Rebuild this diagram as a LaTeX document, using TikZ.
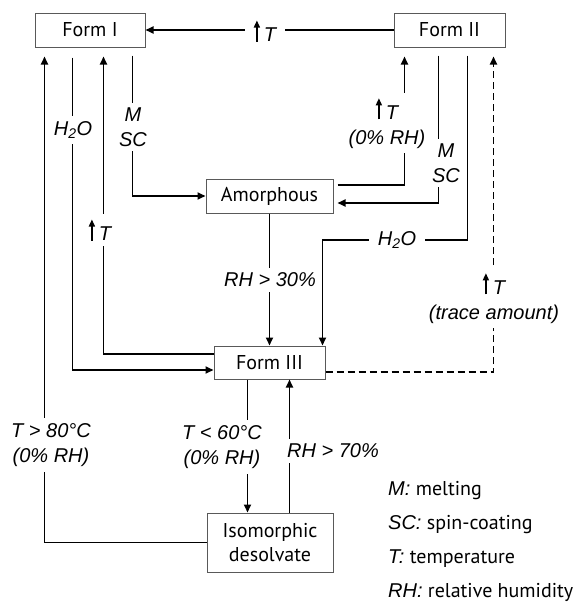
\documentclass[tikz,border=0pt]{standalone}
\usepackage{fontspec}
\setmainfont{PT Sans}
\newfontfamily\labfont{Liberation Sans}
\usetikzlibrary{arrows.meta}
\newcommand{\upT}{\tikz[baseline=0pt]\draw[line width=1.4pt,-{Triangle[length=7pt,width=6pt]}] (0pt,0pt)--(0pt,21pt);\hspace{4pt}T}
\begin{document}
\begin{tikzpicture}[x=1pt,y=-1pt,
  box/.style={draw=black!65, line width=1pt, inner sep=0pt, align=center,
    font=\fontsize{20}{24}\selectfont},
  conn/.style={line width=1.7pt, -{Triangle[length=8pt,width=7pt]}},
  dconn/.style={conn, dash pattern=on 7pt off 4pt},
  lab/.style={fill=white, font=\labfont\itshape\fontsize{20}{25}\selectfont,
    align=center, inner xsep=2pt, inner ysep=5pt},
  hlab/.style={lab, inner xsep=9pt, inner ysep=2pt},
  leg/.style={anchor=base west, inner sep=0pt, font=\fontsize{20}{24}\selectfont}]
\useasboundingbox (0,0) rectangle (574,608);
% boxes
\node[box, minimum width=110pt, minimum height=34pt] (f1) at (90,30) {Form I};
\node[box, minimum width=111pt, minimum height=34pt] (f2) at (449.5,30) {Form II};
\node[box, minimum width=127pt, minimum height=34pt] (am) at (269.5,196) {Amorphous};
\node[box, minimum width=111pt, minimum height=33pt] (f3) at (269.5,362.5) {Form III};
\node[box, minimum width=126pt, minimum height=59pt] (ds) at (270,542.5) {Isomorphic\\desolvate};
\coordinate (h2o) at (397,240);
% connectors
\draw[conn] (f2.west) -- (f1.east);
\draw[conn, shorten >=9pt] (ds.west) -| ([xshift=10pt]f1.south west);
\draw[conn, shorten <=10pt] ([xshift=38pt]f1.south west) |- ([yshift=-7.5pt]f3.west);
\draw[conn, shorten >=9pt] ([yshift=8.5pt]f3.west) -| ([xshift=69pt]f1.south west);
\draw[conn, shorten <=8pt] ([xshift=98pt]f1.south west) |- (am.west);
\draw[conn, shorten <=4pt, shorten >=9pt] ([yshift=11pt]am.east) -| ([xshift=11pt]f2.south west);
\draw[conn, shorten <=8pt, shorten >=4pt] ([xshift=45pt]f2.south west) |- ([yshift=-7pt]am.east);
\draw[conn, shorten <=8pt] ([xshift=74pt]f2.south west) |- (h2o) -| ([xshift=-3pt]f3.north east);
\draw[dconn, shorten >=9pt] ([yshift=-9.5pt]f3.east) -| ([xshift=100pt]f2.south west);
\draw[conn] (am.south) -- (f3.north);
\draw[conn] ([xshift=34pt]f3.south west) -- ([xshift=41pt]ds.north west);
\draw[conn] ([xshift=83pt]ds.north west) -- ([xshift=76pt]f3.south west);
% labels
\node[hlab] (lT1) at (265,31) {\upT};
\node[lab] (lh1) at (73,130) {H\textsubscript{2}O};
\node[lab] (lms1) at (133,127) {M\\SC};
\node[lab] (lT2) at (100,230) {\upT};
\node[lab] (lT80) at (51,445) {T > 80°C\\(0\% RH)};
\node[lab] (lT3) at (387,123) {\upT\\(0\% RH)};
\node[lab] (lms2) at (446,163) {M\\SC};
\node[hlab] (lh2) at (h2o) {H\textsubscript{2}O};
\node[lab] (lRH30) at (270,280) {RH > 30\%};
\node[lab] (lT4) at (494,298) {\upT\\(trace amount)};
\node[lab] (lT60) at (222,447) {T < 60°C\\(0\% RH)};
\node[lab] (lRH70) at (333,451) {RH > 70\%};
% legend
\node[leg] (g1) at (388,495) {{\labfont\itshape M:} melting};
\node[leg] (g2) at (388,529) {{\labfont\itshape SC:} spin-coating};
\node[leg] (g3) at (388,563) {{\labfont\itshape T:} temperature};
\node[leg] (g4) at (388,597) {{\labfont\itshape RH:} relative humidity};
\end{tikzpicture}
\end{document}
